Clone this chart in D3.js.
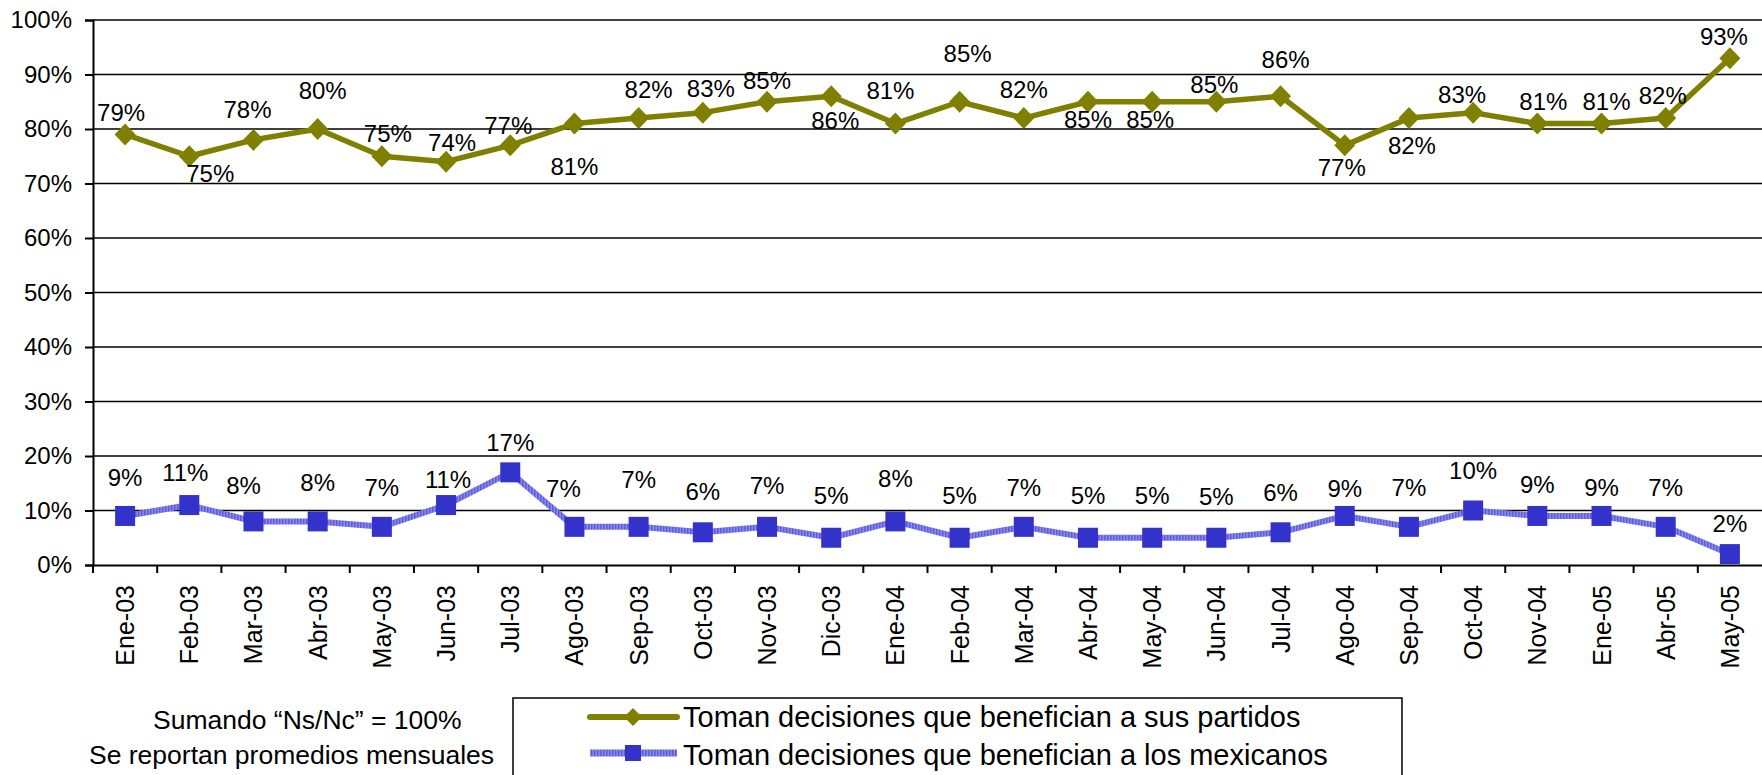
<!DOCTYPE html>
<html>
<head>
<meta charset="utf-8">
<script src="https://cdn.jsdelivr.net/npm/d3@7"></script>
<style>
  body { margin: 0; background: #fff; }
  svg { display: block; font-family: Arial, "Liberation Sans", sans-serif; }
  .axis path, .axis line { stroke: #000; }
</style>
</head>
<body>
<div class="chart"></div>
<script>
// data
var months = ["Ene-03", "Feb-03", "Mar-03", "Abr-03", "May-03", "Jun-03", "Jul-03", "Ago-03",
  "Sep-03", "Oct-03", "Nov-03", "Dic-03", "Ene-04", "Feb-04", "Mar-04", "Abr-04", "May-04",
  "Jun-04", "Jul-04", "Ago-04", "Sep-04", "Oct-04", "Nov-04", "Ene-05", "Abr-05", "May-05"];
var partidos = [79, 75, 78, 80, 75, 74, 77, 81, 82, 83, 85, 86, 81, 85, 82, 85, 85, 85, 86, 77, 82, 83, 81, 81, 82, 93];
var mexicanos = [9, 11, 8, 8, 7, 11, 17, 7, 7, 6, 7, 5, 8, 5, 7, 5, 5, 5, 6, 9, 7, 10, 9, 9, 7, 2];
var yTicks = [0, 10, 20, 30, 40, 50, 60, 70, 80, 90, 100];
var seriesNames = ["Toman decisiones que benefician a sus partidos", "Toman decisiones que benefician a los mexicanos"];
var notes = ["Sumando \u201cNs/Nc\u201d = 100%", "Se reportan promedios mensuales"];

// where each data label sits relative to its point (the labels were placed by hand)
var labDy1 = [-22, 17, -30, -38, -23, -19, -20, 43, -29, -24, -21, 24, -33, -48, -29, 18, 18, -17, -37, 22, 27, -18, -22, -22, -23, -22];
var labDx1 = [-4, 21, -6, 5, 6, 6, -2, 0, 10, 8, 0, 4, -5, 8, 0, 0, -2, -2, 5, -3, 3, -11, 6, 5, -3, -6];
var labDy2 = [-38, -32, -36, -39, -39, -25, -30, -38, -47, -41, -41, -42, -43, -42, -39, -42, -42, -41, -40, -27, -39, -40, -31, -28, -39, -31];
var labDx2 = [0, -4, -10, 0, 0, 2, 0, -11, 0, 0, 0, 0, 0, 0, 0, 0, 0, 0, 0, 0, 0, 0, 0, 0, 0, 0];

var margin = { top: 20, left: 93, right: 0, bottom: 210 };
var W = 1762, H = 775;
var w = W - margin.left - margin.right;
var h = 565 - margin.top;

var svg = d3.select(".chart").append("svg")
  .attr("width", W)
  .attr("height", H);

var defs = svg.append("defs");
var pat = defs.append("pattern")
  .attr("id", "stripes")
  .attr("patternUnits", "userSpaceOnUse")
  .attr("width", 3).attr("height", 3);
pat.append("rect").attr("width", 3).attr("height", 3).attr("fill", "#8a8aee");
pat.append("rect").attr("width", 1.5).attr("height", 3).attr("fill", "#5c5cdc");

var g = svg.append("g")
  .attr("transform", "translate(" + margin.left + "," + margin.top + ")");

var xScale = d3.scaleBand()
  .domain(months)
  .range([0, w]);

var yScale = d3.scaleLinear()
  .domain([0, 100])
  .range([h, 0]);

var cx = function(i) { return xScale(months[i]) + xScale.bandwidth() / 2; };

// gridlines
g.append("g")
  .selectAll("line")
  .data(yTicks.filter(function(d) { return d > 0; }))
  .enter().append("line")
  .attr("x1", 0).attr("x2", w)
  .attr("y1", function(d) { return yScale(d); })
  .attr("y2", function(d) { return yScale(d); })
  .attr("stroke", "#000")
  .attr("stroke-width", 1.6);

// y axis
var yAxis = g.append("g")
  .attr("class", "y axis")
  .call(d3.axisLeft(yScale).tickValues(yTicks).tickSize(8).tickPadding(13)
    .tickFormat(function(d) { return d + "%"; }));
yAxis.select(".domain").attr("stroke-width", 2);
yAxis.selectAll("line").attr("stroke-width", 2);
yAxis.selectAll("text").attr("font-size", 24).attr("fill", "#000")
  .attr("font-family", "Arial, 'Liberation Sans', sans-serif");

// x axis
var xAxis = g.append("g")
  .attr("class", "x axis")
  .attr("transform", "translate(0," + h + ")")
  .call(d3.axisBottom(xScale).tickSize(0).tickPadding(0));
xAxis.select(".domain").attr("stroke-width", 2);
xAxis.selectAll("text")
  .attr("font-size", 25).attr("fill", "#000")
  .attr("font-family", "Arial, 'Liberation Sans', sans-serif")
  .attr("transform", "rotate(-90)")
  .attr("text-anchor", "end")
  .attr("x", -20)
  .attr("y", 0)
  .attr("dy", "0.36em");
xAxis.selectAll(".bound")
  .data(months)
  .enter().append("line")
  .attr("class", "bound")
  .attr("x1", function(d) { return xScale(d); })
  .attr("x2", function(d) { return xScale(d); })
  .attr("y1", 0).attr("y2", 8)
  .attr("stroke", "#000").attr("stroke-width", 2);

// lines
var line1 = d3.line()
  .x(function(d, i) { return cx(i); })
  .y(function(d) { return yScale(d); });

g.append("path")
  .datum(mexicanos)
  .attr("fill", "none")
  .attr("stroke", "url(#stripes)")
  .attr("stroke-width", 6)
  .attr("stroke-linejoin", "round")
  .attr("d", line1);

g.append("path")
  .datum(partidos)
  .attr("fill", "none")
  .attr("stroke", "#808000")
  .attr("stroke-width", 5.5)
  .attr("stroke-linejoin", "round")
  .attr("d", line1);

var diamond = "M0,-11L10.5,0L0,11L-10.5,0Z";

g.selectAll(".dia")
  .data(partidos)
  .enter().append("path")
  .attr("class", "dia")
  .attr("d", diamond)
  .attr("fill", "#808000")
  .attr("transform", function(d, i) { return "translate(" + cx(i) + "," + yScale(d) + ")"; });

g.selectAll(".sq")
  .data(mexicanos)
  .enter().append("rect")
  .attr("class", "sq")
  .attr("x", function(d, i) { return cx(i) - 10; })
  .attr("y", function(d) { return yScale(d) - 10; })
  .attr("width", 20).attr("height", 20)
  .attr("fill", "#3333cc");

// data labels
g.selectAll(".lab1")
  .data(partidos)
  .enter().append("text")
  .attr("class", "lab1")
  .attr("x", function(d, i) { return cx(i) + labDx1[i]; })
  .attr("y", function(d, i) { return yScale(d) + labDy1[i]; })
  .attr("dy", "0.35em")
  .attr("text-anchor", "middle")
  .attr("font-size", 24)
  .text(function(d) { return d + "%"; });

g.selectAll(".lab2")
  .data(mexicanos)
  .enter().append("text")
  .attr("class", "lab2")
  .attr("x", function(d, i) { return cx(i) + labDx2[i]; })
  .attr("y", function(d, i) { return yScale(d) + labDy2[i]; })
  .attr("dy", "0.35em")
  .attr("text-anchor", "middle")
  .attr("font-size", 24)
  .text(function(d) { return d + "%"; });

// notes
svg.append("text").attr("x", 153).attr("y", 729).attr("font-size", 26.5).text(notes[0]);
svg.append("text").attr("x", 89).attr("y", 764).attr("font-size", 26.5).text(notes[1]);

// legend
var leg = svg.append("g");
leg.append("rect")
  .attr("x", 513).attr("y", 698)
  .attr("width", 889).attr("height", 90)
  .attr("fill", "#fff").attr("stroke", "#000").attr("stroke-width", 1.5);

leg.append("line").attr("x1", 590).attr("x2", 677).attr("y1", 717).attr("y2", 717)
  .attr("stroke", "#808000").attr("stroke-width", 6).attr("stroke-linecap", "round");
leg.append("path").attr("d", "M0,-9L9,0L0,9L-9,0Z").attr("fill", "#808000")
  .attr("transform", "translate(633,717)");
leg.append("line").attr("x1", 590).attr("x2", 677).attr("y1", 753).attr("y2", 753)
  .attr("stroke", "url(#stripes)").attr("stroke-width", 7);
leg.append("rect").attr("x", 625).attr("y", 745).attr("width", 16).attr("height", 16)
  .attr("fill", "#3333cc");

leg.selectAll(".lt")
  .data(seriesNames)
  .enter().append("text")
  .attr("class", "lt")
  .attr("x", 683)
  .attr("y", function(d, i) { return 727 + i * 38; })
  .attr("font-size", 29)
  .text(function(d) { return d; });
</script>
</body>
</html>
